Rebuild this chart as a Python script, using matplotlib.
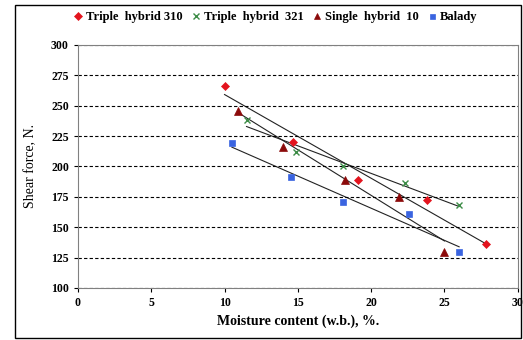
import numpy as np
import matplotlib.pyplot as plt
from matplotlib.patches import Rectangle

plt.rcParams['font.family'] = ['Liberation Serif', 'DejaVu Serif']

# moisture content (x) and shear force (y) per variety
tri310_x = [10.0, 14.7, 19.1, 23.8, 27.8]
tri310_y = [266, 220, 189, 172, 136]
tri321_x = [11.5, 14.9, 18.1, 22.3, 26.0]
tri321_y = [238, 212, 200, 186, 168]
sh10_x = [10.9, 14.0, 18.2, 21.9, 25.0]
sh10_y = [246, 216, 189, 175, 130]
balady_x = [10.5, 14.5, 18.1, 22.6, 26.0]
balady_y = [219, 191, 171, 161, 130]

series = [
    ("Triple  hybrid 310", tri310_x, tri310_y, "D", "#e3141e", 4.5),
    ("Triple  hybrid  321", tri321_x, tri321_y, "x", "#3c8c46", 5),
    ("Single  hybrid  10", sh10_x, sh10_y, "^", "#8b0a0a", 6),
    ("Balady", balady_x, balady_y, "s", "#3a64e0", 4.5),
]

fig = plt.figure(figsize=(5.23, 3.40), dpi=100)
ax = fig.add_axes([0.149, 0.153, 0.841, 0.715])

for name, xs, ys, mk, col, ms in series:
    ax.plot(xs, ys, linestyle="none", marker=mk, color=col, markersize=ms,
            markeredgewidth=1.0 if mk == "x" else 0.5, label=name)
    k, b = np.polyfit(xs, ys, 1)
    xx = np.array([min(xs), max(xs)])
    ax.plot(xx, k * xx + b, color="#222222", linewidth=0.8, zorder=1)

ax.set_xlim(0, 30)
ax.set_ylim(100, 300)
ax.set_xticks(range(0, 31, 5))
ax.set_yticks(range(100, 301, 25))
ax.yaxis.grid(True, linestyle=(0, (3, 2)), color="black", linewidth=0.8)
ax.tick_params(labelsize=8.5, length=3, width=0.8)
for lb in ax.get_xticklabels() + ax.get_yticklabels():
    lb.set_fontweight("bold")
for s in ax.spines.values():
    s.set_color("#808080")
    s.set_linewidth(0.8)

ax.set_xlabel("Moisture content (w.b.), %.", fontsize=10, fontweight="bold", labelpad=4)
ax.set_ylabel("Shear force, N.", fontsize=10, labelpad=10)

fig.legend(loc="upper center", bbox_to_anchor=(0.525, 1.0), ncol=4, frameon=False,
           handletextpad=0.1, columnspacing=0.6, handlelength=1.0, markerscale=0.8,
           prop={"size": 9, "weight": "bold"})

fig.patches.append(Rectangle((15 / 523, 2 / 340), 506 / 523, 333 / 340,
                             transform=fig.transFigure, fill=False,
                             edgecolor="black", linewidth=1.0))

fig.savefig("out.png", dpi=100)
